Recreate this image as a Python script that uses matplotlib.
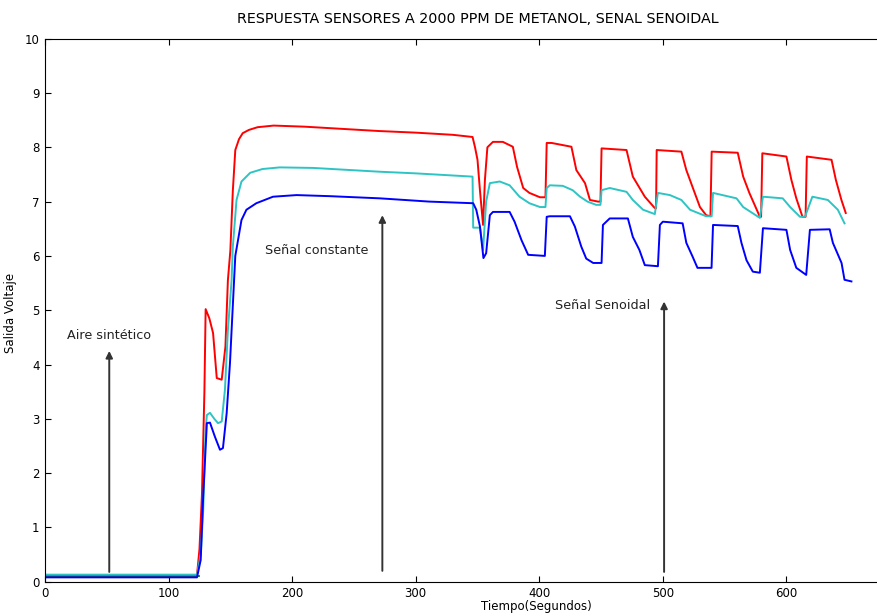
import matplotlib.pyplot as plt

# valores (tiempo en s, voltaje en V)
rojo_t = [0, 123, 125, 127, 129, 130, 133, 136, 139, 143, 146, 148, 150, 152, 154, 157, 160, 165, 172, 185,
          210, 240, 270, 300, 330, 346, 348, 350, 352, 354.5, 356, 358, 362.5, 370.5, 378.6, 382, 387, 392,
          400.5, 405, 406, 410, 426, 430, 437, 441, 447.6, 449.5, 450.4, 470.6, 475.7, 485.4, 493.5, 494.5,
          495, 515, 519, 524, 530, 535, 538.5, 539.5, 560.6, 565, 570, 578.5, 579.5, 580.5, 600, 604, 608,
          613, 615.5, 616.5, 636.5, 640, 644.5, 648]
rojo_v = [0.12, 0.12, 0.6, 1.6, 3.5, 5.02, 4.85, 4.58, 3.75, 3.72, 4.33, 5.55, 6.1, 7.2, 7.95, 8.15, 8.26, 8.32, 8.37, 8.4,
          8.38, 8.34, 8.3, 8.27, 8.23, 8.19, 8.0, 7.77, 7.2, 6.57, 7.4, 8.0, 8.1, 8.1, 8.01, 7.64, 7.25, 7.16,
          7.08, 7.08, 8.08, 8.08, 8.01, 7.58, 7.34, 7.03, 7.0, 7.0, 7.98, 7.95, 7.46, 7.09, 6.88, 6.88,
          7.95, 7.92, 7.58, 7.27, 6.9, 6.75, 6.73, 7.92, 7.9, 7.46, 7.16, 6.72, 6.72, 7.89, 7.83, 7.4, 7.06,
          6.72, 6.72, 7.83, 7.77, 7.4, 7.03, 6.79]

cian_t = [0, 123, 126, 128, 130, 131, 133.5, 137, 140, 143, 145.6, 148, 151, 152, 155, 159, 166, 176, 190,
          217, 271, 300, 346, 346.5, 352, 354.5, 357, 360, 368, 376, 384, 392, 400.5, 405, 406, 408.5,
          419, 427, 433, 439, 446, 449.5, 450.4, 457, 470.6, 475.7, 484, 493.5, 496, 505.7, 515, 522, 535,
          539.5, 540.6, 559.6, 565, 578.5, 581, 597, 603, 611, 615, 621, 633.5, 641.6, 647]
cian_v = [0.13, 0.13, 0.5, 1.3, 2.8, 3.07, 3.11, 3.0, 2.92, 2.95, 3.53, 4.63, 5.55, 6.17, 7.03, 7.37, 7.53, 7.6, 7.63,
          7.62, 7.55, 7.52, 7.46, 6.52, 6.52, 6.11, 7.0, 7.34, 7.37, 7.3, 7.09, 6.97, 6.9, 6.9, 7.25, 7.3,
          7.29, 7.21, 7.09, 7.0, 6.94, 6.94, 7.21, 7.25, 7.18, 7.03, 6.85, 6.77, 7.16, 7.12, 7.03, 6.85, 6.73,
          6.73, 7.16, 7.06, 6.9, 6.7, 7.09, 7.06, 6.9, 6.72, 6.72, 7.09, 7.03, 6.85, 6.6]

azul_t = [0, 123, 126, 128, 131, 133.5, 137.5, 141.6, 144, 147, 149.7, 151, 154, 159, 163, 171, 184.5, 203.6,
          230.6, 271, 311, 346.5, 349, 352, 354.8, 357, 360, 362.5, 376, 380, 385.6, 391, 404.5, 406, 408.5,
          424.8, 428.8, 434, 438, 443.6, 450.4, 451.5, 457, 471.7, 475.7, 481, 485.4, 496, 497.6, 500,
          516, 519, 524, 528, 539.4, 540.6, 560.6, 563.6, 567.7, 572.8, 578.5, 581, 600, 603, 608, 616,
          619, 635, 637.6, 644.6, 647, 652.6]
azul_v = [0.08, 0.08, 0.4, 1.57, 2.92, 2.93, 2.67, 2.43, 2.46, 3.1, 4.03, 4.63, 6.0, 6.66, 6.85, 6.97, 7.09, 7.12,
          7.1, 7.06, 7.0, 6.97, 6.85, 6.54, 5.96, 6.05, 6.75, 6.81, 6.81, 6.63, 6.29, 6.02, 6.0, 6.72, 6.73,
          6.73, 6.54, 6.17, 5.95, 5.87, 5.87, 6.57, 6.69, 6.69, 6.35, 6.11, 5.83, 5.81, 6.57, 6.63,
          6.6, 6.24, 5.99, 5.78, 5.78, 6.57, 6.55, 6.24, 5.92, 5.71, 5.69, 6.51, 6.48, 6.11, 5.78, 5.65,
          6.48, 6.49, 6.24, 5.87, 5.56, 5.53]

verde_t = [0, 125]
verde_v = [0.1, 0.1]

# flechas: (x, y inicio, y punta), textos: (x, y, texto)
flechas = [(52, 0.18, 4.25), (273, 0.2, 6.75), (501, 0.18, 5.16)]
textos = [(18, 4.54, "Aire sintético"), (178, 6.1, "Señal constante"), (413, 5.09, "Señal Senoidal")]

fig = plt.figure(figsize=(8.78, 6.16), dpi=100)
ax = fig.add_axes([45/878, 34.3/616, 865/878, 543/616])

ax.plot(verde_t, verde_v, color="#008000", lw=1.3)
ax.plot(rojo_t, rojo_v, color="#ff0000", lw=1.4)
ax.plot(cian_t, cian_v, color="#2ec4c4", lw=1.4)
ax.plot(azul_t, azul_v, color="#0000ff", lw=1.4)

for x, y0, y1 in flechas:
    ax.annotate("", xy=(x, y1), xytext=(x, y0),
                arrowprops=dict(arrowstyle="-|>", color="#333333", lw=1.4, mutation_scale=10,
                                shrinkA=0, shrinkB=0))
for x, y, s in textos:
    ax.text(x, y, s, fontsize=9.2, va="center", ha="left", color="#222222")

ax.set_xlim(0, 700)
ax.set_ylim(0, 10)
ax.set_xticks(range(0, 601, 100))
ax.set_yticks(range(0, 11))
ax.tick_params(direction="in", length=4, labelsize=8.5, top=True, right=False, pad=4)
ax.spines["right"].set_visible(False)

ax.set_title("RESPUESTA SENSORES A 2000 PPM DE METANOL, SENAL SENOIDAL", fontsize=10.3, pad=11)
ax.set_xlabel("Tiempo(Segundos)", fontsize=8.5)
ax.xaxis.set_label_coords(0.568, -0.034)
ax.set_ylabel("Salida Voltaje", fontsize=8.5)
ax.yaxis.set_label_coords(-0.032, 0.495)

fig.savefig("out.png", dpi=100)
